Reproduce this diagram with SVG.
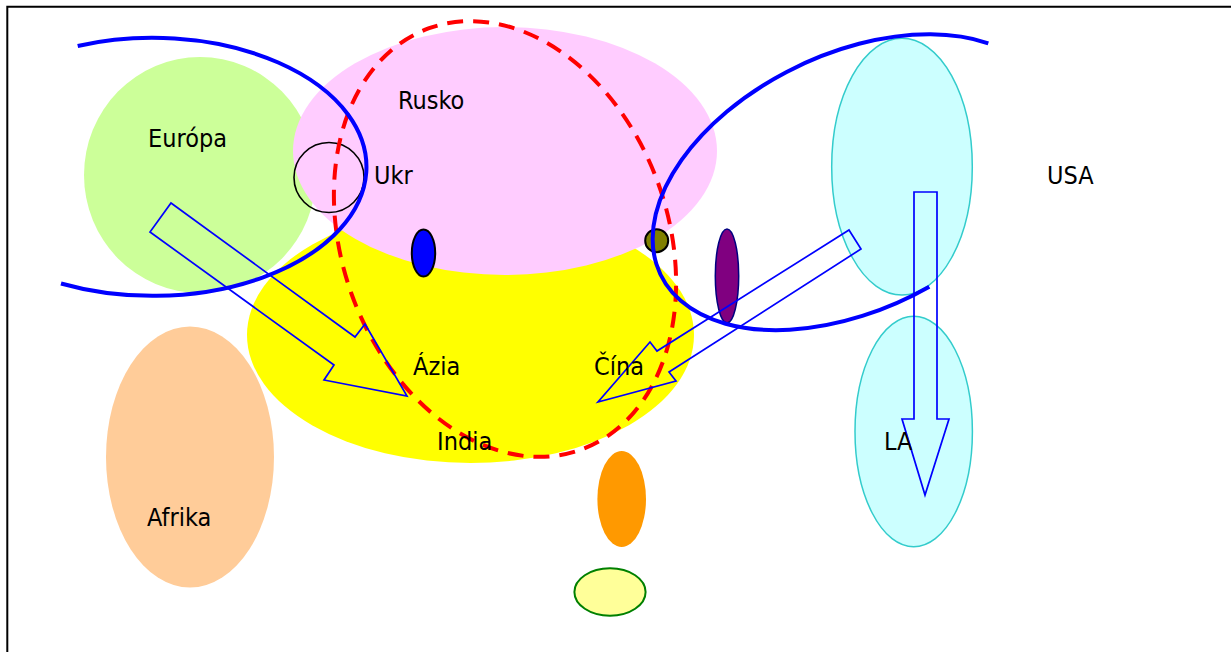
<svg xmlns="http://www.w3.org/2000/svg" width="1231" height="652" viewBox="0 0 1231 652">
<style>
text{font-family:"DejaVu Sans Condensed","DejaVu Sans",sans-serif;font-stretch:condensed;font-size:25px;fill:#000}
.arc{fill:none;stroke:#0000FF;stroke-width:4}
.arrow{fill:none;stroke:#0000FF;stroke-width:1.7;stroke-linejoin:miter}
.cyan{fill:#CCFFFF;stroke:#33CCCC;stroke-width:1.5}
</style>
<rect width="1231" height="652" fill="#FFFFFF"/>
<path d="M7.3 652 V6.7 H1231" fill="none" stroke="#000" stroke-width="2"/>
<g id="europa"><ellipse cx="200" cy="175" rx="116" ry="118" fill="#CCFF99"/></g>
<g id="afrika"><ellipse cx="190" cy="457" rx="84" ry="130.5" fill="#FFCC99"/></g>
<g id="azia"><ellipse cx="470.5" cy="335" rx="223.5" ry="128" fill="#FFFF00"/></g>
<g id="rusko"><ellipse cx="505" cy="151" rx="212" ry="124" fill="#FFCCFF"/></g>
<g id="blue-dot"><ellipse cx="423.5" cy="253" rx="11.7" ry="23.5" fill="#0000FF" stroke="#000" stroke-width="2"/></g>
<g id="olive-dot"><circle cx="656.7" cy="240.7" r="11.5" fill="#808000" stroke="#000" stroke-width="2"/></g>
<g id="purple-dot"><ellipse cx="727" cy="276" rx="11.7" ry="47" fill="#800080" stroke="#000080" stroke-width="1.5"/></g>
<g id="orange-dot"><ellipse cx="621.7" cy="499" rx="24.3" ry="48" fill="#FF9900"/></g>
<g id="lightyellow-dot"><ellipse cx="610" cy="592" rx="35.6" ry="23.7" fill="#FFFF99" stroke="#008000" stroke-width="2"/></g>
<g id="usa"><ellipse class="cyan" cx="902" cy="166.7" rx="70.3" ry="128.4"/></g>
<g id="la"><ellipse class="cyan" cx="913.7" cy="431.5" rx="58.7" ry="115.3"/></g>
<g id="ukr"><circle cx="329" cy="177.5" r="35" fill="none" stroke="#000" stroke-width="1.6"/></g>
<g id="red-region"><ellipse cx="505" cy="239" rx="163" ry="224" transform="rotate(-19.8 505 239)" fill="none" stroke="#FF0000" stroke-width="4" stroke-dasharray="16 10"/></g>
<g id="west-arc"><path class="arc" d="M77.7 46 A214 129 0 1 1 61 283.5"/></g>
<g id="east-arc"><path class="arc" d="M988.3 43.3 A213.2 128.2 -25.7 1 0 929.3 286.7"/></g>
<g id="connectors">
<polygon class="arrow" points="171,203 355,337 365,324 407,396 324,380 334,365 150,232"/>
<polygon class="arrow" points="849,230 861,249 669,372 676,381 598,402 650,342 657,351"/>
<polygon class="arrow" points="914,192 937,192 937,419 949,419 925,495 902,419 914,419"/>
</g>
<g id="labels">
<text x="148" y="147">Európa</text>
<text x="398" y="109">Rusko</text>
<text x="374" y="184">Ukr</text>
<text x="1047" y="184">USA</text>
<text x="413" y="375">Ázia</text>
<text x="594" y="375">Čína</text>
<text x="437" y="450">India</text>
<text x="147" y="526">Afrika</text>
<text x="884" y="450">LA</text>
</g>
</svg>
